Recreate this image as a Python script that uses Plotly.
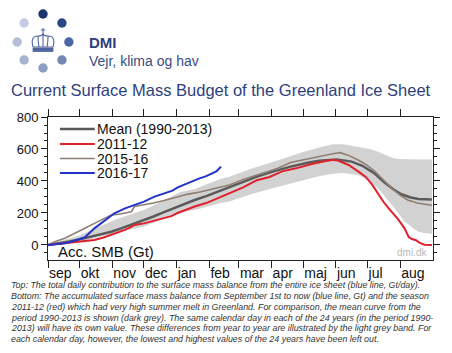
import plotly.graph_objects as go

# ---------------- data (days since 1 Sep, Gt) ----------------
band_days = [0, 15, 30, 49, 65, 80, 91, 110, 125, 139, 150, 162, 172, 194, 219, 241, 257, 270, 280, 294, 305, 313, 320, 326, 332, 338, 345, 351, 358, 364]
band_low = [0, 8, 20, 50, 80, 100, 115, 165, 205, 219, 240, 260, 271, 320, 365, 400, 430, 445, 450, 437, 400, 354, 300, 250, 200, 146, 110, 83, 74, 70]
band_high = [0, 30, 60, 115, 160, 195, 219, 280, 330, 350, 380, 410, 427, 480, 531, 580, 610, 630, 630, 615, 600, 583, 560, 545, 537, 535, 535, 535, 535, 535]

mean_days = [0, 10, 20, 30, 40, 50, 60, 70, 80, 91, 100, 110, 123, 139, 150, 160, 172, 185, 198, 214, 230, 245, 257, 274, 288, 298, 310, 319, 328, 335, 343, 351, 358, 364]
mean_vals = [0, 10, 22, 35, 52, 68, 83, 105, 128, 156, 178, 205, 240, 281, 305, 330, 359, 390, 427, 460, 490, 512, 527, 535, 521, 495, 445, 390, 345, 317, 298, 287, 285, 285]

red_days = [0, 10, 20, 30, 44, 52, 60, 67, 73, 78, 82, 91, 100, 110, 117, 123, 131, 139, 150, 160, 172, 185, 198, 210, 222, 235, 250, 258, 265, 269, 275, 285, 294, 301, 307, 313, 318, 323, 328, 332, 338, 342, 345, 349, 352, 357, 364]
red_vals = [0, 6, 14, 22, 31, 45, 62, 80, 94, 110, 125, 135, 150, 167, 180, 200, 220, 240, 262, 290, 323, 360, 405, 425, 460, 479, 506, 518, 528, 533, 528, 500, 460, 427, 380, 320, 270, 229, 190, 160, 104, 50, 37, 30, 15, 2, 0]

brown_days = [0, 7, 16, 25, 35, 44, 54, 60, 67, 73, 79, 82, 91, 100, 110, 123, 133, 143, 155, 172, 185, 203, 218, 230, 244, 257, 270, 277, 285, 294, 302, 310, 318, 326, 334, 341, 350, 358, 364]
brown_vals = [0, 21, 42, 69, 104, 135, 167, 187, 192, 198, 208, 240, 250, 262, 278, 300, 318, 330, 350, 375, 410, 448, 480, 515, 535, 550, 570, 577, 560, 531, 500, 458, 405, 354, 310, 281, 262, 252, 248]

blue_days = [0, 8, 16, 22, 28, 35, 44, 54, 63, 73, 82, 91, 101, 110, 118, 123, 133, 143, 150, 156, 160, 164]
blue_vals = [0, 4, 10, 20, 31, 48, 104, 156, 198, 229, 250, 271, 302, 323, 340, 360, 390, 415, 430, 448, 462, 490]

month_starts = [0, 30, 61, 91, 122, 153, 181, 212, 242, 273, 303, 334]
month_labels = ["sep", "okt", "nov", "dec", "jan", "feb", "mar", "apr", "maj", "jun", "jul", "aug"]
y_ticks = [0, 200, 400, 600, 800]

legend_names = ["Mean (1990-2013)", "2011-12", "2015-16", "2016-17"]
legend_colors = ["#5a5a5a", "#e0202c", "#8f7f72", "#2233cc"]
legend_widths = [2.5, 2, 1.6, 2]

caption_lines = [
    "Top: The total daily contribution to the surface mass balance from the entire ice sheet (blue line, Gt/day).",
    "Bottom: The accumulated surface mass balance from September 1st to now (blue line, Gt) and the season",
    "2011-12 (red) which had very high summer melt in Greenland. For comparison, the mean curve from the",
    "period 1990-2013 is shown (dark grey). The same calendar day in each of the 24 years (in the period 1990-",
    "2013) will have its own value. These differences from year to year are illustrated by the light grey band. For",
    "each calendar day, however, the lowest and highest values of the 24 years have been left out.",
]

# ---------------- geometry ----------------
W, H = 452, 353
L, R, T, B = 48, 435, 117, 260
FONT = "Liberation Sans"
NAVY = "#2e3f7f"


def px(x):
    return (x - L) / (R - L)


def py(y):
    return (B - y) / (B - T)


fig = go.Figure()

fig.add_trace(go.Scatter(x=band_days, y=band_low, mode="lines", line=dict(width=0, color="#d2d2d2"),
                         showlegend=False, hoverinfo="skip"))
fig.add_trace(go.Scatter(x=band_days, y=band_high, mode="lines", line=dict(width=0, color="#d2d2d2"),
                         fill="tonexty", fillcolor="#d2d2d2", showlegend=False, hoverinfo="skip"))

series = [(mean_days, mean_vals), (red_days, red_vals), (brown_days, brown_vals), (blue_days, blue_vals)]
order = [0, 2, 1, 3]
for i in order:
    d, v = series[i]
    fig.add_trace(go.Scatter(x=d, y=v, mode="lines", name=legend_names[i],
                             line=dict(color=legend_colors[i], width=legend_widths[i]),
                             showlegend=False))

shapes = []
annotations = []

# manual legend
leg_y = [129, 144, 158.5, 173]
for i, name in enumerate(legend_names):
    shapes.append(dict(type="line", xref="paper", yref="paper", x0=px(60), x1=px(95),
                       y0=py(leg_y[i]), y1=py(leg_y[i]),
                       line=dict(color=legend_colors[i], width=legend_widths[i])))
    annotations.append(dict(text=name, xref="paper", yref="paper", x=px(95), y=py(leg_y[i]),
                            xanchor="left", yanchor="middle", showarrow=False,
                            font=dict(family=FONT, size=14, color="#111")))

annotations.append(dict(text="Acc. SMB (Gt)", xref="paper", yref="paper", x=px(56), y=py(251),
                        xanchor="left", yanchor="middle", showarrow=False,
                        font=dict(family=FONT, size=15, color="#111")))
annotations.append(dict(text="dmi.dk", xref="paper", yref="paper", x=px(431), y=py(252),
                        xanchor="right", yanchor="middle", showarrow=False,
                        font=dict(family=FONT, size=10, color="#b8b8b8")))

# title
annotations.append(dict(text="Current Surface Mass Budget of the Greenland Ice Sheet", xref="paper", yref="paper",
                        x=px(9), y=py(90), xanchor="left", yanchor="middle", showarrow=False,
                        font=dict(family=FONT, size=16.5, color=NAVY)))
# header
annotations.append(dict(text="<b>DMI</b>", xref="paper", yref="paper", x=px(87), y=py(42),
                        xanchor="left", yanchor="middle", showarrow=False,
                        font=dict(family=FONT, size=15, color=NAVY)))
annotations.append(dict(text="Vejr, klima og hav", xref="paper", yref="paper", x=px(87), y=py(61),
                        xanchor="left", yanchor="middle", showarrow=False,
                        font=dict(family=FONT, size=14, color="#3a4c84")))

# caption
cap_y = [285, 296, 306.7, 317.5, 328.3, 339.2]
for t, yy in zip(caption_lines, cap_y):
    annotations.append(dict(text="<i>" + t + "</i>", xref="paper", yref="paper", x=px(9), y=py(yy),
                            xanchor="left", yanchor="middle", showarrow=False,
                            font=dict(family=FONT, size=8.9, color="#333")))

# logo dots
dots = [(43, 14, "#1c3570"), (62, 23, "#2b4786"), (69, 42, "#4c68a4"), (62, 60, "#7387b5"),
        (43, 68, "#8c9cc2"), (24, 60, "#a6b2cf"), (17, 42, "#b4bfd7"), (24, 23, "#c3cce0")]
for (cx, cy, c) in dots:
    shapes.append(dict(type="circle", xref="paper", yref="paper", xsizemode="pixel", ysizemode="pixel",
                       xanchor=px(cx), yanchor=py(cy), x0=-4.7, x1=4.7, y0=-4.7, y1=4.7,
                       fillcolor=c, line=dict(width=0)))
# crown
crown_col = "#5066a0"
shapes.append(dict(type="path", xref="paper", yref="paper", xsizemode="pixel", ysizemode="pixel",
                   xanchor=px(43), yanchor=py(42),
                   path="M -10,-5 Q -13,6 -5,6 Q -1,6 0,8 Q 1,6 5,6 Q 13,6 10,-5 Z "
                        "M -5,6 Q -5,0 -4,-5 M 5,6 Q 5,0 4,-5 M 0,8 L 0,-5",
                   line=dict(color=crown_col, width=1.1), fillcolor="rgba(0,0,0,0)"))
shapes.append(dict(type="path", xref="paper", yref="paper", xsizemode="pixel", ysizemode="pixel",
                   xanchor=px(43), yanchor=py(42),
                   path="M -10,-6 L 10,-6 L 10,-9.5 L -10,-9.5 Z",
                   line=dict(color=crown_col, width=0.8), fillcolor=crown_col))
shapes.append(dict(type="path", xref="paper", yref="paper", xsizemode="pixel", ysizemode="pixel",
                   xanchor=px(43), yanchor=py(42),
                   path="M 0,8 L 0,14 M -2.2,12 L 2.2,12",
                   line=dict(color=crown_col, width=1.1)))

fig.update_layout(
    width=W, height=H,
    margin=dict(l=L, r=W - R, t=T, b=H - B, pad=0),
    paper_bgcolor="white", plot_bgcolor="white",
    showlegend=False,
    shapes=shapes, annotations=annotations,
    xaxis=dict(range=[0, 365], tickvals=month_starts, ticktext=month_labels,
               ticks="outside", ticklen=7, tickcolor="#222", tickwidth=1,
               ticklabelposition="outside right", tickangle=0,
               showline=True, linecolor="#222", linewidth=1, mirror="ticks",
               showgrid=False, zeroline=False,
               tickfont=dict(family=FONT, size=14, color="#111")),
    yaxis=dict(range=[-94, 800], tickvals=y_ticks, ticks="outside", ticklen=6, tickcolor="#222",
               showline=True, linecolor="#222", linewidth=1, mirror="ticks",
               showgrid=False, zeroline=False,
               minor=dict(dtick=50, tick0=0, ticks="outside", ticklen=3, tickcolor="#222", showgrid=False),
               tickfont=dict(family=FONT, size=13, color="#111")),
)

fig.write_html("out.html")
